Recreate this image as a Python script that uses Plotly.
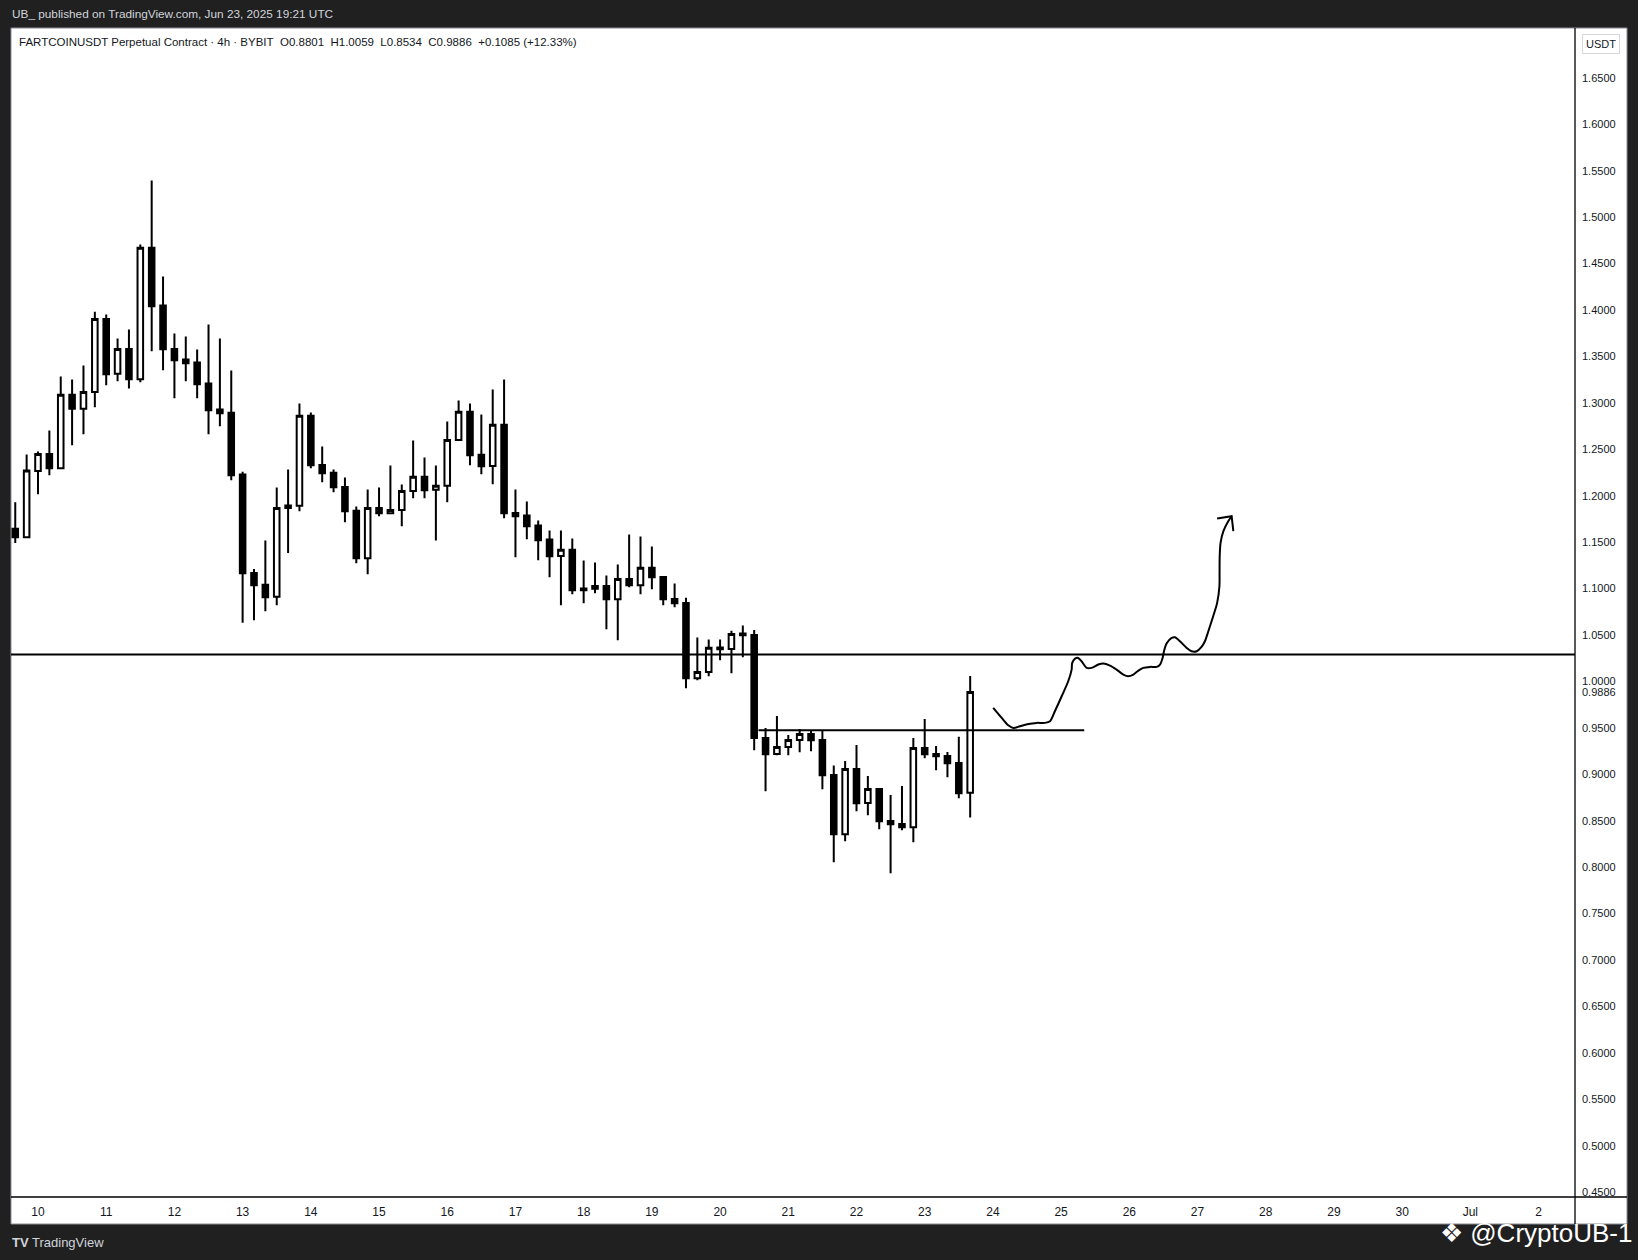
import pandas as pd
import plotly.graph_objects as go

# ---------------- data ----------------
first_bar = "2025-06-09 16:00"
bar_freq = "4h"

opens = [1.1643, 1.1553, 1.2267, 1.2450, 1.2296, 1.3086, 1.2935, 1.3118, 1.3904, 1.3312,
         1.3581, 1.3254, 1.4669, 1.4048, 1.3581, 1.3466, 1.3434, 1.3208, 1.2928, 1.2892,
         1.2228, 1.1169, 1.1040, 1.0911, 1.1869, 1.1891, 1.2860, 1.2332, 1.2246, 1.2095,
         1.1837, 1.1327, 1.1869, 1.1811, 1.1847, 1.2052, 1.2203, 1.2063, 1.2106, 1.2601,
         1.2903, 1.2440, 1.2321, 1.2763, 1.1815, 1.1786, 1.1679, 1.1528, 1.1352, 1.1417,
         1.1000, 1.0997, 1.1029, 1.0886, 1.1104, 1.1036, 1.1223, 1.1126, 1.0889, 1.0846,
         1.0035, 1.0103, 1.0365, 1.0349, 1.0516, 1.0501, 0.9392, 0.9220, 0.9295, 0.9370,
         0.9435, 0.9371, 0.8994, 0.8355, 0.9058, 0.8692, 0.8843, 0.8498, 0.8466, 0.8430,
         0.9284, 0.9220, 0.9198, 0.9123, 0.8801]
highs = [1.1930, 1.2443, 1.2475, 1.2702, 1.3283, 1.3251, 1.3402, 1.3980, 1.3951, 1.3692,
         1.3789, 1.4705, 1.5394, 1.4360, 1.3746, 1.3714, 1.3574, 1.3843, 1.3692, 1.3348,
         1.2257, 1.1212, 1.1517, 1.2088, 1.2282, 1.2993, 1.2896, 1.2529, 1.2282, 1.2195,
         1.1883, 1.2066, 1.2088, 1.2325, 1.2120, 1.2594, 1.2411, 1.2325, 1.2798, 1.3025,
         1.2993, 1.2874, 1.3143, 1.3251, 1.2066, 1.1937, 1.1733, 1.1625, 1.1625, 1.1539,
         1.1302, 1.1280, 1.1140, 1.1259, 1.1582, 1.1560, 1.1453, 1.1130, 1.1054, 1.0900,
         1.0473, 1.0451, 1.0451, 1.0545, 1.0602, 1.0555, 0.9500, 0.9629, 0.9424, 0.9489,
         0.9468, 0.9475, 0.9094, 0.9144, 0.9316, 0.8983, 0.8854, 0.8778, 0.8875, 0.9392,
         0.9596, 0.9306, 0.9241, 0.9406, 1.0059]
lows = [1.1492, 1.1542, 1.2016, 1.2221, 1.2285, 1.2544, 1.2662, 1.2953, 1.3190, 1.3233,
        1.3154, 1.3222, 1.3556, 1.3351, 1.3050, 1.3233, 1.3050, 1.2662, 1.2748, 1.2167,
        1.0631, 1.0659, 1.0756, 1.0820, 1.1384, 1.1833, 1.2296, 1.2145, 1.2037, 1.1714,
        1.1273, 1.1154, 1.1779, 1.1801, 1.1671, 1.1973, 1.1973, 1.1517, 1.1930, 1.2595,
        1.2328, 1.2232, 1.2124, 1.1758, 1.1338, 1.1532, 1.1306, 1.1123, 1.0821, 1.0940,
        1.0843, 1.0950, 1.0563, 1.0444, 1.1015, 1.0940, 1.0993, 1.0821, 1.0799, 0.9927,
        1.0013, 1.0057, 1.0229, 1.0089, 1.0261, 0.9259, 0.8818, 0.9205, 0.9205, 0.9238,
        0.9249, 0.8839, 0.8053, 0.8279, 0.8602, 0.8559, 0.8408, 0.7934, 0.8397, 0.8268,
        0.9173, 0.9044, 0.8968, 0.8742, 0.8534]
closes = [1.1553, 1.2271, 1.2450, 1.2296, 1.3086, 1.2935, 1.3118, 1.3904, 1.3308, 1.3581,
          1.3254, 1.4669, 1.4041, 1.3577, 1.3459, 1.3427, 1.3201, 1.2921, 1.2888, 1.2221,
          1.1165, 1.1036, 1.0907, 1.1869, 1.1894, 1.2860, 1.2328, 1.2242, 1.2091, 1.1833,
          1.1327, 1.1869, 1.1811, 1.1847, 1.2052, 1.2203, 1.2059, 1.2106, 1.2601, 1.2903,
          1.2436, 1.2318, 1.2763, 1.1812, 1.1779, 1.1672, 1.1521, 1.1349, 1.1417, 1.0983,
          1.0983, 1.1029, 1.0886, 1.1104, 1.1036, 1.1223, 1.1122, 1.0886, 1.0843, 1.0035,
          1.0103, 1.0362, 1.0347, 1.0512, 1.0498, 0.9392, 0.9216, 0.9295, 0.9370, 0.9435,
          0.9367, 0.8990, 0.8355, 0.9058, 0.8688, 0.8843, 0.8494, 0.8462, 0.8430, 0.9284,
          0.9216, 0.9194, 0.9119, 0.8796, 0.9886]

resistance_level = 1.029
support_level = 0.9475
support_start = "2025-06-20 13:30"
support_end = "2025-06-25 08:08"

path_times = ["2025-06-24 00:06", "2025-06-24 03:06", "2025-06-24 05:24", "2025-06-24 07:12",
              "2025-06-24 09:30", "2025-06-24 12:30", "2025-06-24 15:24", "2025-06-24 18:18",
              "2025-06-24 20:06", "2025-06-24 21:48", "2025-06-25 00:12", "2025-06-25 02:30",
              "2025-06-25 03:42", "2025-06-25 03:54", "2025-06-25 04:54", "2025-06-25 06:00",
              "2025-06-25 07:12", "2025-06-25 09:00", "2025-06-25 10:42", "2025-06-25 13:06",
              "2025-06-25 14:48", "2025-06-25 17:12", "2025-06-25 19:30", "2025-06-25 21:54",
              "2025-06-25 23:36", "2025-06-26 01:24", "2025-06-26 03:12", "2025-06-26 04:54",
              "2025-06-26 07:18", "2025-06-26 09:36", "2025-06-26 10:48", "2025-06-26 11:42",
              "2025-06-26 12:12", "2025-06-26 13:06", "2025-06-26 14:54", "2025-06-26 16:06",
              "2025-06-26 17:48", "2025-06-26 20:12", "2025-06-26 21:54", "2025-06-26 23:42",
              "2025-06-27 01:24", "2025-06-27 02:36", "2025-06-27 03:48", "2025-06-27 05:30",
              "2025-06-27 06:54", "2025-06-27 07:42", "2025-06-27 07:45", "2025-06-27 07:48",
              "2025-06-27 08:06", "2025-06-27 09:06", "2025-06-27 10:48", "2025-06-27 12:00"]
path_prices = [0.9715, 0.9607, 0.9528, 0.9500, 0.9518, 0.9543, 0.9554, 0.9554,
               0.9572, 0.9679, 0.9841, 1.0002, 1.0128, 1.0200, 1.0246, 1.0253,
               1.0218, 1.0146, 1.0146, 1.0182, 1.0193, 1.0171, 1.0128, 1.0074,
               1.0056, 1.0074, 1.0117, 1.0146, 1.0157, 1.0157, 1.0182, 1.0253,
               1.0325, 1.0408, 1.0469, 1.0476, 1.0433, 1.0361, 1.0325, 1.0325,
               1.0372, 1.0433, 1.0541, 1.0702, 1.0846, 1.1025, 1.1169, 1.1348,
               1.1492, 1.1618, 1.1725, 1.1779]
arrow_times = ["2025-06-27 06:54", "2025-06-27 12:00", "2025-06-27 12:36"]
arrow_prices = [1.1754, 1.1779, 1.1618]

price_ticks = [round(0.45 + 0.05 * i, 2) for i in range(25)]
day_ticks = ["2025-06-10", "2025-06-11", "2025-06-12", "2025-06-13", "2025-06-14", "2025-06-15",
             "2025-06-16", "2025-06-17", "2025-06-18", "2025-06-19", "2025-06-20", "2025-06-21",
             "2025-06-22", "2025-06-23", "2025-06-24", "2025-06-25", "2025-06-26", "2025-06-27",
             "2025-06-28", "2025-06-29", "2025-06-30", "2025-07-01", "2025-07-02"]
day_labels = ["10", "11", "12", "13", "14", "15", "16", "17", "18", "19", "20", "21",
              "22", "23", "24", "25", "26", "27", "28", "29", "30", "Jul", "2"]
last_close = 0.9886

x_range = ["2025-06-09 14:30", "2025-07-02 12:49"]
y_range = [0.4449, 1.7036]

header_title = "UB_ published on TradingView.com, Jun 23, 2025 19:21 UTC"
legend_text = ("FARTCOINUSDT Perpetual Contract · 4h · BYBIT\u00a0\u00a0O0.8801\u00a0\u00a0H1.0059"
               "\u00a0\u00a0L0.8534\u00a0\u00a0C0.9886\u00a0\u00a0+0.1085 (+12.33%)")

# ---------------- figure ----------------
W, H = 1638, 1260
L_PX, R_PX, T_PX, B_PX = 11, 1575, 28, 1197
PW, PH = R_PX - L_PX, B_PX - T_PX


def px(xp):
    return (xp - L_PX) / PW


def py(yp):
    return (B_PX - yp) / PH


FONT = "Liberation Sans"
TXT = "#131722"

times = pd.date_range(first_bar, periods=len(opens), freq=bar_freq)

fig = go.Figure()
fig.add_trace(go.Candlestick(
    x=times, open=opens, high=highs, low=lows, close=closes,
    increasing=dict(line=dict(color="#000000", width=2), fillcolor="#ffffff"),
    decreasing=dict(line=dict(color="#000000", width=2), fillcolor="#000000"),
    whiskerwidth=0, showlegend=False, hoverinfo="skip",
))
fig.add_trace(go.Scatter(
    x=pd.to_datetime(path_times), y=path_prices, mode="lines",
    line=dict(color="#000000", width=2, shape="spline", smoothing=0.8),
    showlegend=False, hoverinfo="skip",
))
fig.add_trace(go.Scatter(
    x=pd.to_datetime(arrow_times), y=arrow_prices, mode="lines",
    line=dict(color="#000000", width=2),
    showlegend=False, hoverinfo="skip",
))

shapes = [
    # white chart panel (plot + axis areas)
    dict(type="rect", xref="paper", yref="paper", x0=px(11), x1=px(1627), y0=py(1224), y1=py(28),
         fillcolor="#ffffff", line=dict(color="#8a8d96", width=1), layer="below"),
    # price axis separator
    dict(type="line", xref="paper", yref="paper", x0=px(R_PX), x1=px(R_PX), y0=py(1224), y1=py(28),
         line=dict(color="#000000", width=1.3)),
    # time axis separator
    dict(type="line", xref="paper", yref="paper", x0=px(11), x1=px(1627), y0=py(B_PX), y1=py(B_PX),
         line=dict(color="#000000", width=1.5)),
    # horizontal levels
    dict(type="line", xref="paper", yref="y", x0=0, x1=1, y0=resistance_level, y1=resistance_level,
         line=dict(color="#000000", width=2)),
    dict(type="line", xref="x", yref="y", x0=support_start, x1=support_end,
         y0=support_level, y1=support_level, line=dict(color="#000000", width=2)),
]

annotations = [
    dict(text=header_title, xref="paper", yref="paper", x=px(10), y=py(14), xanchor="left",
         yanchor="middle", showarrow=False, font=dict(family=FONT, size=11.8, color="#d1d4dc")),
    dict(text=legend_text, xref="paper", yref="paper", x=px(17), y=py(42), xanchor="left",
         yanchor="middle", showarrow=False, font=dict(family=FONT, size=11.5, color=TXT)),
    dict(text="USDT", xref="paper", yref="paper", x=px(1601), y=py(44), xanchor="center",
         yanchor="middle", showarrow=False, font=dict(family=FONT, size=11, color=TXT),
         bordercolor="#d6d8de", borderwidth=1, borderpad=3),
    dict(text=f"{last_close:.4f}", xref="paper", yref="y", x=px(1581), y=last_close,
         xanchor="left", yanchor="middle", showarrow=False, bgcolor="#ffffff",
         font=dict(family=FONT, size=11, color=TXT), borderpad=0),
    dict(text="<b>TV</b> TradingView", xref="paper", yref="paper", x=px(10), y=py(1242),
         xanchor="left", yanchor="middle", showarrow=False,
         font=dict(family=FONT, size=13, color="#d1d4dc")),
    dict(text="❖ @CryptoUB-1", xref="paper", yref="paper", x=px(1634), y=py(1233),
         xanchor="right", yanchor="middle", showarrow=False,
         font=dict(family=FONT, size=26, color="#ffffff")),
]

fig.update_layout(
    width=W, height=H,
    margin=dict(l=L_PX, r=W - R_PX, t=T_PX, b=H - B_PX, pad=0),
    paper_bgcolor="#202020", plot_bgcolor="#ffffff",
    shapes=shapes, annotations=annotations, showlegend=False,
    xaxis=dict(type="date", range=x_range, rangeslider=dict(visible=False),
               tickvals=pd.to_datetime(day_ticks), ticktext=day_labels,
               showgrid=False, zeroline=False, showline=False, ticks="",
               ticklabelstandoff=6, tickfont=dict(family=FONT, size=12, color=TXT)),
    yaxis=dict(side="right", range=y_range, tickvals=price_ticks,
               ticktext=[f"{v:.4f}" for v in price_ticks],
               showgrid=False, zeroline=False, showline=False, ticks="",
               ticklabelstandoff=6, tickfont=dict(family=FONT, size=11, color=TXT)),
)

fig.write_html("out.html", config={"displayModeBar": False},
               post_script="document.body.style.margin='0';document.body.style.background='#202020';")
